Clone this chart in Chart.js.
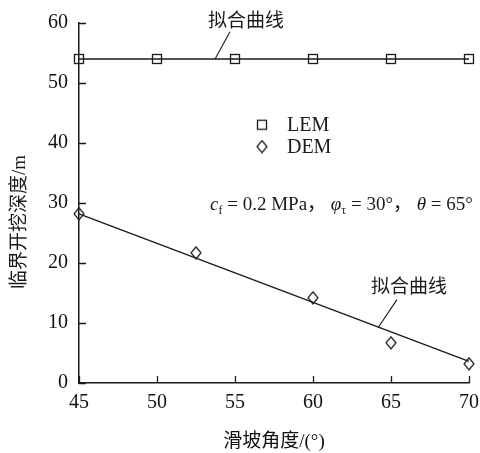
<!DOCTYPE html>
<html lang="zh">
<head>
<meta charset="UTF-8">
<title>临界开挖深度</title>
<script src="https://cdn.jsdelivr.net/npm/chart.js"></script>
<style>
    html, body { margin: 0; padding: 0; background: #fff; }
    #wrap { width: 480px; height: 453px; position: relative; }
</style>
</head>
<body>
<div id="wrap"><canvas id="chart"></canvas></div>
<script>
    // slope angle (deg)
    const lemAngles = [45, 50, 55, 60, 65, 70];
    const lemDepth = [54, 54, 54, 54, 54, 54];
    const demAngles = [45, 52.5, 60, 65, 70];
    const demDepth = [28.2, 21.7, 14.2, 6.7, 3.2];
    // fitted lines, end points
    const lemFitX = [45, 70];
    const lemFitY = [54, 54];
    const demFitX = [45, 70];
    const demFitY = [28.2, 3.6];

    const xTicks = [45, 50, 55, 60, 65, 70];
    const yTicks = [0, 10, 20, 30, 40, 50, 60];

    const serif = '"Liberation Serif", "Times New Roman", serif';
    const cjk = '"Liberation Serif", "Noto Sans CJK SC", serif';
    const ink = '#1a1a1a';

    function toPts(xs, ys) {
        return xs.map((x, i) => ({ x: x, y: ys[i] }));
    }

    // marker images
    function makeSquare() {
        const c = document.createElement('canvas');
        c.width = 12; c.height = 12;
        const g = c.getContext('2d');
        g.fillStyle = '#fff';
        g.fillRect(1, 1, 10, 10);
        g.strokeStyle = ink;
        g.lineWidth = 1.3;
        g.strokeRect(1.5, 1.5, 9, 9);
        return c;
    }
    function makeDiamond() {
        const c = document.createElement('canvas');
        c.width = 12; c.height = 14;
        const g = c.getContext('2d');
        g.beginPath();
        g.moveTo(6, 1); g.lineTo(11, 7); g.lineTo(6, 13); g.lineTo(1, 7); g.closePath();
        g.fillStyle = '#fff';
        g.fill();
        g.strokeStyle = ink;
        g.lineWidth = 1.2;
        g.stroke();
        return c;
    }
    const squareImg = makeSquare();
    const diamondImg = makeDiamond();

    const decor = {
        id: 'decor',
        afterDraw(chart) {
            const ctx = chart.ctx;
            const xs = chart.scales.x, ys = chart.scales.y;
            const area = chart.chartArea;
            const X = v => xs.getPixelForValue(v);
            const Y = v => ys.getPixelForValue(v);
            ctx.save();
            ctx.strokeStyle = ink;
            ctx.lineWidth = 1.3;
            // inward ticks
            ctx.beginPath();
            xTicks.forEach(v => {
                const px = Math.round(X(v)) + 0.5;
                ctx.moveTo(px, area.bottom); ctx.lineTo(px, area.bottom - 7);
            });
            yTicks.forEach(v => {
                const py = Math.round(Y(v)) + 0.5;
                ctx.moveTo(area.left, py); ctx.lineTo(area.left + 7, py);
            });
            ctx.stroke();

            // leader lines
            ctx.lineWidth = 1.1;
            ctx.beginPath();
            ctx.moveTo(X(54.68), Y(58.55)); ctx.lineTo(X(53.72), Y(54.0));
            ctx.moveTo(X(65.38), Y(13.9)); ctx.lineTo(X(64.17), Y(9.2));
            ctx.stroke();

            ctx.fillStyle = ink;
            ctx.textBaseline = 'middle';
            ctx.textAlign = 'center';
            ctx.font = '19px ' + cjk;
            ctx.fillText('拟合曲线', X(55.7), Y(60.2));
            ctx.fillText('拟合曲线', X(66.15), Y(15.9));

            // legend
            ctx.drawImage(squareImg, X(56.73) - 6, Y(43.05) - 6);
            ctx.drawImage(diamondImg, X(56.73) - 6, Y(39.4) - 7);
            ctx.textAlign = 'left';
            ctx.font = '20px ' + serif;
            ctx.fillText('LEM', X(58.33), Y(43.05) + 1);
            ctx.fillText('DEM', X(58.33), Y(39.4) + 1);

            // parameter note
            ctx.textBaseline = 'alphabetic';
            let x = X(53.4);
            const base = Y(28.9);
            const parts = [
                ['italic 19px ' + serif, 'c', 0],
                ['12px ' + serif, 'f', 4],
                ['19px ' + serif, ' = 0.2 MPa', 0],
                ['19px "Noto Sans CJK SC"', '，', 0],
                ['italic 19px ' + serif, ' φ', 0],
                ['12px ' + serif, 'τ', 4],
                ['19px ' + serif, ' = 30°', 0],
                ['19px "Noto Sans CJK SC"', '，', 0],
                ['italic 19px ' + serif, ' θ', 0],
                ['19px ' + serif, ' = 65°', 0]
            ];
            parts.forEach(p => {
                ctx.font = p[0];
                ctx.fillText(p[1], x, base + p[2]);
                x += ctx.measureText(p[1]).width;
            });

            // y axis title
            ctx.save();
            ctx.translate(20, 222);
            ctx.rotate(-Math.PI / 2);
            ctx.textAlign = 'center';
            ctx.textBaseline = 'middle';
            ctx.font = '19px ' + cjk;
            ctx.fillText('临界开挖深度/m', 0, 0);
            ctx.restore();
            ctx.restore();
        }
    };

    new Chart(document.getElementById('chart'), {
        type: 'scatter',
        data: {
            datasets: [
                {
                    label: 'LEM fit',
                    data: toPts(lemFitX, lemFitY),
                    showLine: true,
                    borderColor: ink,
                    borderWidth: 1.3,
                    pointRadius: 0,
                    clip: false
                },
                {
                    label: 'DEM fit',
                    data: toPts(demFitX, demFitY),
                    showLine: true,
                    borderColor: ink,
                    borderWidth: 1.3,
                    pointRadius: 0,
                    clip: false
                },
                {
                    label: 'LEM',
                    data: toPts(lemAngles, lemDepth),
                    pointStyle: squareImg,
                    pointRadius: 6,
                    clip: false
                },
                {
                    label: 'DEM',
                    data: toPts(demAngles, demDepth),
                    pointStyle: diamondImg,
                    pointRadius: 6,
                    clip: false
                }
            ]
        },
        options: {
            responsive: true,
            maintainAspectRatio: false,
            animation: false,
            layout: { padding: { top: 23, right: 11, left: 0, bottom: 0 } },
            plugins: {
                legend: { display: false },
                tooltip: { enabled: false }
            },
            scales: {
                x: {
                    type: 'linear',
                    min: 45,
                    max: 70,
                    afterFit: s => { s.height = 70; s.paddingLeft = 0; s.paddingRight = 0; },
                    afterBuildTicks: s => { s.ticks = xTicks.map(v => ({ value: v })); },
                    grid: { display: false, drawTicks: false },
                    border: { display: true, color: ink, width: 1.5, z: 1 },
                    ticks: { color: '#111', padding: 8, maxRotation: 0, font: { family: serif, size: 20 } },
                    title: {
                        display: true,
                        text: '滑坡角度/(°)',
                        color: '#111',
                        padding: { top: 0, bottom: 0 },
                        font: { family: cjk, size: 19 }
                    }
                },
                y: {
                    type: 'linear',
                    min: 0,
                    max: 60,
                    afterFit: s => { s.width = 79; s.paddingTop = 0; s.paddingBottom = 0; },
                    afterBuildTicks: s => { s.ticks = yTicks.map(v => ({ value: v })); },
                    grid: { display: false, drawTicks: false },
                    border: { display: true, color: ink, width: 1.5, z: 1 },
                    ticks: { color: '#111', padding: 11, font: { family: serif, size: 20 } }
                }
            }
        },
        plugins: [decor]
    });
</script>
</body>
</html>
